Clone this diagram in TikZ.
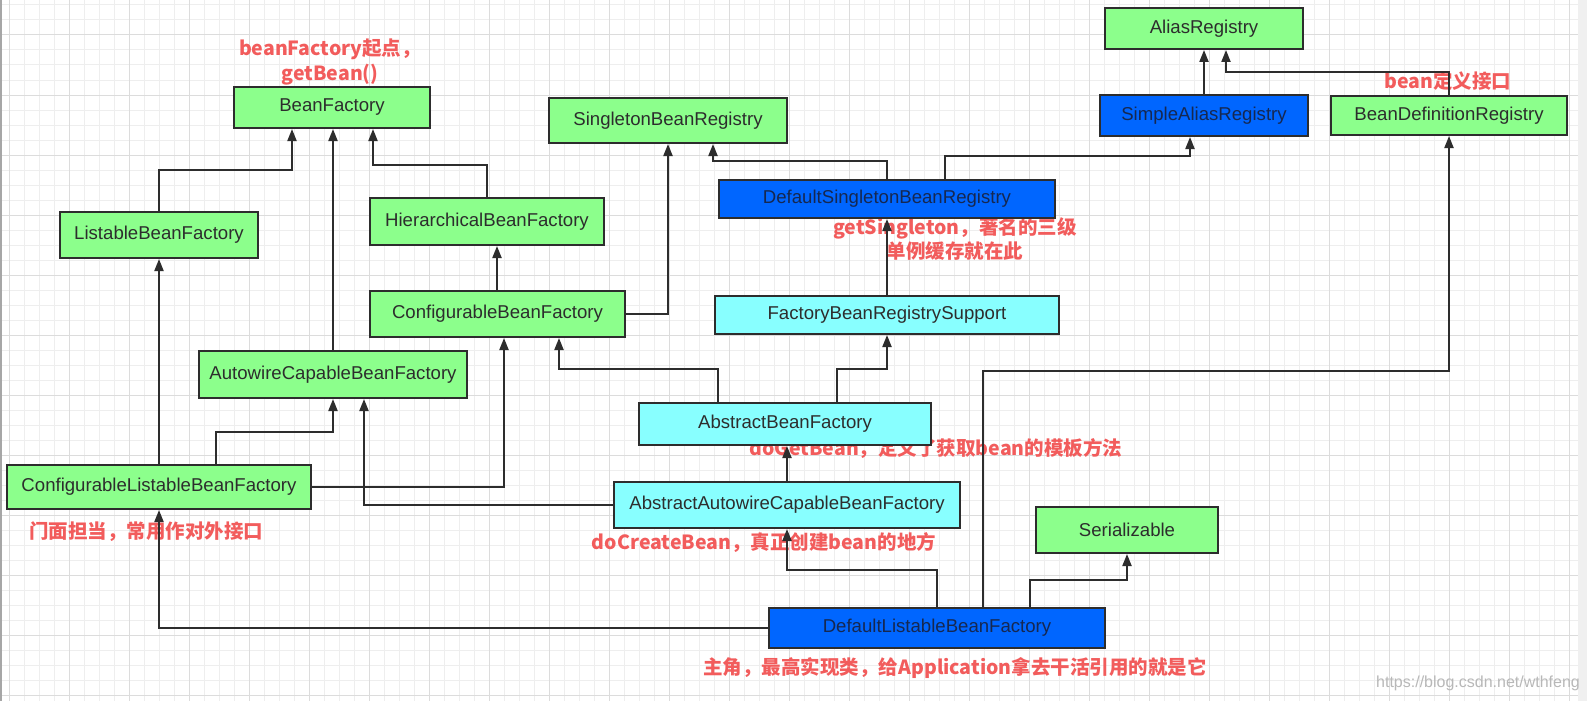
\documentclass[tikz,border=0pt]{standalone}
\usepackage{fontspec}
\setmainfont{Liberation Sans}
\newfontfamily\cjk{Noto Sans CJK SC}
\usetikzlibrary{arrows.meta}
\definecolor{gfill}{RGB}{140,255,140}
\definecolor{cfill}{RGB}{136,255,255}
\definecolor{bfill}{RGB}{0,102,255}
\definecolor{edgec}{RGB}{45,45,45}
\definecolor{anno}{RGB}{242,92,92}
\definecolor{navy}{RGB}{22,40,80}
\definecolor{gridminor}{RGB}{238,238,238}
\definecolor{gridmajor}{RGB}{220,220,220}
\begin{document}
\begin{tikzpicture}[x=1pt,y=-1pt,
 box/.style={draw=edgec, line width=2pt, inner sep=0pt, font=\fontsize{18.6}{21}\selectfont, text=edgec},
 gbox/.style={box, fill=gfill},
 cbox/.style={box, fill=cfill},
 bbox/.style={box, fill=bfill, text=navy},
 conn/.style={draw=edgec, line width=2pt, -{Triangle[length=12pt,width=9pt]}},
 note/.style={text=anno, font=\cjk\bfseries\fontsize{19.5}{24.5}\selectfont, align=center, inner sep=0pt},
]
\useasboundingbox (0,0) rectangle (1587,701);
\fill[white] (0,0) rectangle (1587,701);
% grid
\foreach \x in {9,24,...,1578} \draw[gridminor, line width=1pt] (\x,0) -- (\x,701);
\foreach \y in {5,20,...,701} \draw[gridminor, line width=1pt] (0,\y) -- (1578,\y);
\foreach \x in {9,69,...,1578} \draw[gridmajor, line width=1pt] (\x,0) -- (\x,701);
\foreach \y in {35,95,...,701} \draw[gridmajor, line width=1pt] (0,\y) -- (1578,\y);
\fill[black!6] (1578,0) rectangle (1587,701);
\draw[black!35, line width=2pt] (1,0) -- (1,701);

% annotations
\node[note] (n1) at (330,62) {beanFactory起点，\\getBean()};
\node[note] (n2) at (955,239) {getSingleton，著名的三级\\单例缓存就在此};
\node[note] (n3) at (1448,81) {bean定义接口};
\node[note] (n4) at (936,449) {doGetBean，定义了获取bean的模板方法};
\node[note] (n5) at (146,532) {门面担当，常用作对外接口};
\node[note] (n6) at (764,543) {doCreateBean，真正创建bean的地方};
\node[note] (n7) at (955,668) {主角，最高实现类，给Application拿去干活引用的就是它};
\node[text=black!28, font=\fontsize{16}{18}\selectfont, inner sep=0pt] (wm) at (1478,683) {https://blog.csdn.net/wthfeng};

% boxes
\node[gbox, minimum width=198pt, minimum height=41pt] (AR) at (1204,28.5) {AliasRegistry};
\node[bbox, minimum width=208pt, minimum height=41pt] (SAR) at (1204,115.5) {SimpleAliasRegistry};
\node[gbox, minimum width=236pt, minimum height=39pt] (BDR) at (1449,115.5) {BeanDefinitionRegistry};
\node[gbox, minimum width=196pt, minimum height=41pt] (BF) at (332,107.5) {BeanFactory};
\node[gbox, minimum width=238pt, minimum height=45pt] (SBR) at (668,120.5) {SingletonBeanRegistry};
\node[gbox, minimum width=198pt, minimum height=46pt] (LBF) at (159,235) {ListableBeanFactory};
\node[gbox, minimum width=234pt, minimum height=47pt] (HBF) at (487,221.5) {HierarchicalBeanFactory};
\node[bbox, minimum width=336pt, minimum height=38pt] (DSBR) at (887,199) {DefaultSingletonBeanRegistry};
\node[gbox, minimum width=255pt, minimum height=46pt] (CBF) at (497.5,314) {ConfigurableBeanFactory};
\node[cbox, minimum width=344pt, minimum height=38pt] (FBRS) at (887,315) {FactoryBeanRegistrySupport};
\node[gbox, minimum width=268pt, minimum height=47pt] (ACBF) at (333,374.5) {AutowireCapableBeanFactory};
\node[cbox, minimum width=292pt, minimum height=42pt] (ABF) at (785,424) {AbstractBeanFactory};
\node[gbox, minimum width=304pt, minimum height=44pt] (CLBF) at (159,487) {ConfigurableListableBeanFactory};
\node[cbox, minimum width=346pt, minimum height=46pt] (AACBF) at (787,505) {AbstractAutowireCapableBeanFactory};
\node[gbox, minimum width=182pt, minimum height=46pt] (SER) at (1127,530) {Serializable};
\node[bbox, minimum width=336pt, minimum height=40pt] (DLBF) at (937,628) {DefaultListableBeanFactory};

% connectors
\draw[conn] (LBF.north) -- (LBF.north |- 0,170) -| ([xshift=-40pt]BF.south);
\draw[conn] (ACBF.north) -- (ACBF.north |- BF.south);
\draw[conn] (HBF.north) -- (HBF.north |- 0,165) -| ([xshift=41pt]BF.south);
\draw[conn] ([xshift=-0.5pt]CBF.north) -- ([xshift=-0.5pt]CBF.north |- HBF.south);
\draw[conn] (CBF.east) -| (SBR.south);
\draw[conn] (DSBR.north) -- (DSBR.north |- 0,161) -| ([xshift=45pt]SBR.south);
\draw[conn] ([xshift=58pt]DSBR.north) -- ++(0,-23) -| ([xshift=-14pt]SAR.south);
\draw[conn] (SAR.north) -- (SAR.north |- AR.south);
\draw[conn] (BDR.north) -- (BDR.north |- 0,72) -| ([xshift=22pt]AR.south);
\draw[conn] (FBRS.north) -- (FBRS.north |- DSBR.south);
\draw[conn] ([xshift=-67pt]ABF.north) -- ++(0,-33) -| ([xshift=61.5pt]CBF.south);
\draw[conn] ([xshift=52pt]ABF.north) -- ++(0,-33) -| (FBRS.south);
\draw[conn] (AACBF.north) -- (AACBF.north |- ABF.south);
\draw[conn] (CLBF.north) -- (CLBF.north |- LBF.south);
\draw[conn] ([xshift=57pt]CLBF.north) -- ++(0,-32) -| (ACBF.south);
\draw[conn] (CLBF.east) -| ([xshift=6.5pt]CBF.south);
\draw[conn] (AACBF.west) -| ([xshift=31pt]ACBF.south);
\draw[conn] (DLBF.west) -| (CLBF.south);
\draw[conn] (DLBF.north) -- (DLBF.north |- 0,570) -| (AACBF.south);
\draw[conn] ([xshift=46pt]DLBF.north) -- ++(0,-236) -| (BDR.south);
\draw[conn] ([xshift=93pt]DLBF.north) -- ++(0,-27) -| (SER.south);
\end{tikzpicture}
\end{document}
